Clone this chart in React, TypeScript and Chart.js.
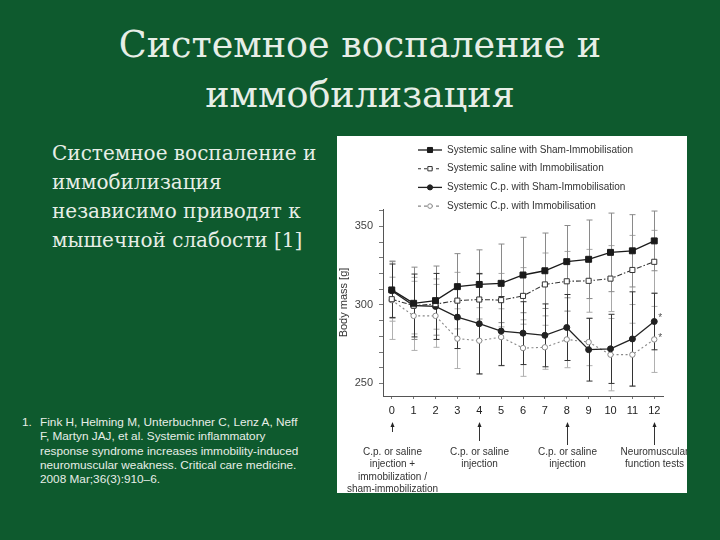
import React, { useEffect, useRef } from "react";
import { Chart, registerables } from "chart.js";

Chart.register(...registerables);

// ---------- data ----------
const DAYS = [0, 1, 2, 3, 4, 5, 6, 7, 8, 9, 10, 11, 12];
const SALINE_SHAM = [309.5, 301, 302.7, 311.6, 313, 313.7, 319, 321.7, 327.5, 329, 333.4, 334.4, 340.7];
const SALINE_IMMOB = [303.6, 299.5, 300.5, 302.7, 303.4, 303, 305.7, 313, 315, 315.3, 316.7, 322.2, 327.4];
const CP_SHAM = [309, 299.6, 299, 292.2, 288, 283.3, 282, 280.6, 285.6, 271.5, 272, 278.3, 289.4];
const CP_IMMOB = [303, 293, 293, 278.5, 277.2, 279.5, 272.5, 273, 278, 276.3, 268.3, 268.3, 278];

const SALINE_SHAM_SD = [18, 23, 22, 21, 22, 25, 24, 24, 23, 25, 25, 23, 19];
const SALINE_IMMOB_SD = [14, 18, 16, 18, 16, 17, 18, 20, 19, 20, 21, 22, 20];
const CP_SHAM_SD = [17, 20, 21, 20, 32, 22, 20, 20, 21, 20, 22, 30, 18];
const CP_IMMOB_SD = [25, 22, 20, 19, 21, 18, 18, 14, 18, 15, 23, 20, 21];

const SERIES_LABELS = [
  "Systemic saline with Sham-Immobilisation",
  "Systemic saline with Immobilisation",
  "Systemic C.p. with Sham-Immobilisation",
  "Systemic C.p. with Immobilisation",
];

const Y_TICKS = [250, 260, 270, 280, 290, 300, 310, 320, 330, 340, 350, 360];
const Y_LABELED = [250, 300, 350];

const ANNOT_DAYS = [0, 4, 8, 12];
const ANNOT_TEXT = [
  ["C.p. or saline", "injection +", "immobilization /", "sham-immobilization"],
  ["C.p. or saline", "injection"],
  ["C.p. or saline", "injection"],
  ["Neuromuscular", "function tests"],
];
const ARROW_FROM = [432, 441, 445, 445];

const TITLE_LINES = ["Системное воспаление и", "иммобилизация"];
const BULLET_LINES = ["Системное воспаление и", "иммобилизация", "независимо приводят к", "мышечной слабости [1]"];
const REF_LINES = [
  "Fink H, Helming M, Unterbuchner C, Lenz A, Neff",
  "F, Martyn JAJ, et al. Systemic inflammatory",
  "response syndrome increases immobility-induced",
  "neuromuscular weakness. Critical care medicine.",
  "2008 Mar;36(3):910–6.",
];

// ---------- styles ----------
const STYLES = [
  { color: "#1a1a1a", dash: [] as number[], pointStyle: "rect", radius: 4.2, fill: "#1a1a1a", width: 1.3, errColor: "#8a8a8a" },
  { color: "#333", dash: [5, 2, 1.5, 2], pointStyle: "rect", radius: 3.6, fill: "#ffffff", width: 1.1, errColor: "#a8a8a8" },
  { color: "#222", dash: [] as number[], pointStyle: "circle", radius: 3, fill: "#222", width: 1.3, errColor: "#333" },
  { color: "#888", dash: [2, 2.5], pointStyle: "circle", radius: 2.7, fill: "#ffffff", width: 1.1, errColor: "#b0b0b0" },
];
const SERIES = [SALINE_SHAM, SALINE_IMMOB, CP_SHAM, CP_IMMOB];
const SDS = [SALINE_SHAM_SD, SALINE_IMMOB_SD, CP_SHAM_SD, CP_IMMOB_SD];
const ERR_ORDER = [1, 3, 0, 2];

const FONT = "'Liberation Sans', Arial, sans-serif";

function drawMarker(ctx: CanvasRenderingContext2D, style: string, x: number, y: number, r: number, fill: string, stroke: string) {
  ctx.save();
  ctx.setLineDash([]);
  ctx.fillStyle = fill;
  ctx.strokeStyle = stroke;
  ctx.lineWidth = 1;
  ctx.beginPath();
  if (style === "rect") {
    const s = Math.SQRT1_2 * r;
    ctx.rect(x - s, y - s, 2 * s, 2 * s);
  } else {
    ctx.arc(x, y, r, 0, Math.PI * 2);
  }
  ctx.fill();
  ctx.stroke();
  ctx.restore();
}

const decorPlugin = {
  id: "decor",
  beforeDatasetsDraw(chart: any) {
    const { ctx, scales } = chart;
    const xs = scales.x;
    const ys = scales.y;
    ctx.save();
    ctx.setLineDash([]);
    ERR_ORDER.forEach((si) => {
      ctx.strokeStyle = STYLES[si].errColor;
      ctx.lineWidth = 1;
      SERIES[si].forEach((v, j) => {
        const x = Math.round(xs.getPixelForValue(DAYS[j])) + 0.5;
        const yt = ys.getPixelForValue(v + SDS[si][j]);
        const yb = ys.getPixelForValue(v - SDS[si][j]);
        ctx.beginPath();
        ctx.moveTo(x, yt);
        ctx.lineTo(x, yb);
        ctx.moveTo(x - 3, yt);
        ctx.lineTo(x + 3, yt);
        ctx.moveTo(x - 3, yb);
        ctx.lineTo(x + 3, yb);
        ctx.stroke();
      });
    });
    ctx.restore();
  },
  afterDraw(chart: any) {
    const { ctx, scales } = chart;
    const xs = scales.x;
    const ys = scales.y;
    ctx.save();
    // legend
    ctx.font = `10px ${FONT}`;
    ctx.textBaseline = "middle";
    ctx.textAlign = "left";
    SERIES_LABELS.forEach((lab, i) => {
      const st = STYLES[i];
      const y = 14 + i * 18.7;
      ctx.strokeStyle = st.color;
      ctx.lineWidth = st.width;
      ctx.setLineDash(st.dash.length ? [3, 3] : []);
      ctx.beginPath();
      ctx.moveTo(81, y);
      ctx.lineTo(105, y);
      ctx.stroke();
      drawMarker(ctx, st.pointStyle, 93, y, st.radius * 0.85, st.fill, st.color);
      ctx.fillStyle = "#333";
      ctx.fillText(lab, 110, y);
    });
    // asterisks
    ctx.font = `10px ${FONT}`;
    ctx.fillStyle = "#555";
    const x12 = xs.getPixelForValue(DAYS[12]);
    ctx.fillText("*", x12 + 4, ys.getPixelForValue(CP_SHAM[12]) - 3);
    ctx.fillText("*", x12 + 4, ys.getPixelForValue(CP_IMMOB[12]) - 1);
    // arrows + annotations
    ctx.textAlign = "center";
    ctx.font = `10px ${FONT}`;
    ANNOT_DAYS.forEach((d, i) => {
      const x = Math.round(xs.getPixelForValue(d)) + 0.5;
      const top = 423 - 136;
      const from = ARROW_FROM[i] - 136;
      ctx.strokeStyle = "#333";
      ctx.lineWidth = 1;
      ctx.setLineDash([]);
      ctx.beginPath();
      ctx.moveTo(x, from);
      ctx.lineTo(x, top + 2);
      ctx.stroke();
      ctx.fillStyle = "#222";
      ctx.beginPath();
      ctx.moveTo(x, top - 1);
      ctx.lineTo(x - 2, top + 4);
      ctx.lineTo(x + 2, top + 4);
      ctx.closePath();
      ctx.fill();
      ctx.fillStyle = "#333";
      ANNOT_TEXT[i].forEach((line, k) => {
        ctx.fillText(line, x, 316 + k * 12.4);
      });
    });
    ctx.restore();
  },
};

function BodyMassChart() {
  const ref = useRef<HTMLCanvasElement | null>(null);
  useEffect(() => {
    if (!ref.current) return;
    const datasets = SERIES.map((vals, i) => ({
      label: SERIES_LABELS[i],
      data: vals.map((v, j) => ({ x: DAYS[j], y: v })),
      borderColor: STYLES[i].color,
      borderWidth: STYLES[i].width,
      borderDash: STYLES[i].dash,
      pointStyle: STYLES[i].pointStyle,
      pointRadius: STYLES[i].radius,
      pointBackgroundColor: STYLES[i].fill,
      pointBorderColor: STYLES[i].color,
      pointBorderWidth: 1,
      fill: false,
      tension: 0,
    }));
    const chart = new Chart(ref.current, {
      type: "line",
      data: { datasets: datasets as any },
      plugins: [decorPlugin],
      options: {
        animation: false,
        responsive: false,
        maintainAspectRatio: false,
        layout: { padding: { top: 73, right: 24, left: 0, bottom: 0 } },
        plugins: { legend: { display: false }, tooltip: { enabled: false } },
        scales: {
          x: {
            type: "linear",
            min: -0.4,
            max: 12.4,
            afterBuildTicks: (s: any) => {
              s.ticks = DAYS.map((d) => ({ value: d }));
            },
            afterFit: (s: any) => {
              s.height = 97;
            },
            grid: { drawOnChartArea: false, drawTicks: true, tickLength: 3, color: "#777" },
            border: { color: "#555", width: 1 },
            ticks: {
              font: { family: FONT, size: 11 },
              color: "#222",
              padding: 5,
              maxRotation: 0,
              autoSkip: false,
            },
          },
          y: {
            type: "linear",
            min: 242,
            max: 361,
            afterBuildTicks: (s: any) => {
              s.ticks = Y_TICKS.map((v) => ({ value: v }));
            },
            afterFit: (s: any) => {
              s.width = 46;
            },
            grid: { drawOnChartArea: false, drawTicks: true, tickLength: 4, color: "#777" },
            border: { color: "#555", width: 1 },
            ticks: {
              font: { family: FONT, size: 11 },
              color: "#444",
              padding: 6,
              autoSkip: false,
              callback: (v: any) => (Y_LABELED.includes(Number(v)) ? String(v) : ""),
            },
            title: {
              display: true,
              text: "Body mass [g]",
              font: { family: FONT, size: 11 },
              color: "#333",
              padding: 0,
            },
          },
        },
      } as any,
    });
    return () => chart.destroy();
  }, []);
  return <canvas ref={ref} width={350} height={357} style={{ display: "block", width: 350, height: 357 }} />;
}

export default function App() {
  const light = "#e7eee7";
  return (
    <div style={{ position: "fixed", left: 0, top: 0, width: 720, height: 540, background: "#0e5a2e", overflow: "hidden" }}>
      <div
        style={{
          position: "absolute",
          left: 0,
          top: 20,
          width: 720,
          textAlign: "center",
          fontFamily: "'DejaVu Serif', serif",
          fontSize: 36.5,
          lineHeight: "50px",
          color: light,
        }}
      >
        {TITLE_LINES.map((l, i) => (
          <div key={i}>{l}</div>
        ))}
      </div>
      <div
        style={{
          position: "absolute",
          left: 52,
          top: 139,
          fontFamily: "'DejaVu Serif', serif",
          fontSize: 20,
          lineHeight: "29px",
          color: light,
          whiteSpace: "nowrap",
        }}
      >
        {BULLET_LINES.map((l, i) => (
          <div key={i}>{l}</div>
        ))}
      </div>
      <div
        style={{
          position: "absolute",
          left: 22,
          top: 415,
          fontFamily: FONT,
          fontSize: 11.8,
          lineHeight: "14.3px",
          color: light,
          whiteSpace: "nowrap",
        }}
      >
        <span style={{ position: "absolute", left: 0, top: 0 }}>1.</span>
        <div style={{ marginLeft: 18 }}>
          {REF_LINES.map((l, i) => (
            <div key={i}>{l}</div>
          ))}
        </div>
      </div>
      <div style={{ position: "absolute", left: 337, top: 136, width: 350, height: 357, background: "#ffffff" }}>
        <BodyMassChart />
      </div>
    </div>
  );
}
